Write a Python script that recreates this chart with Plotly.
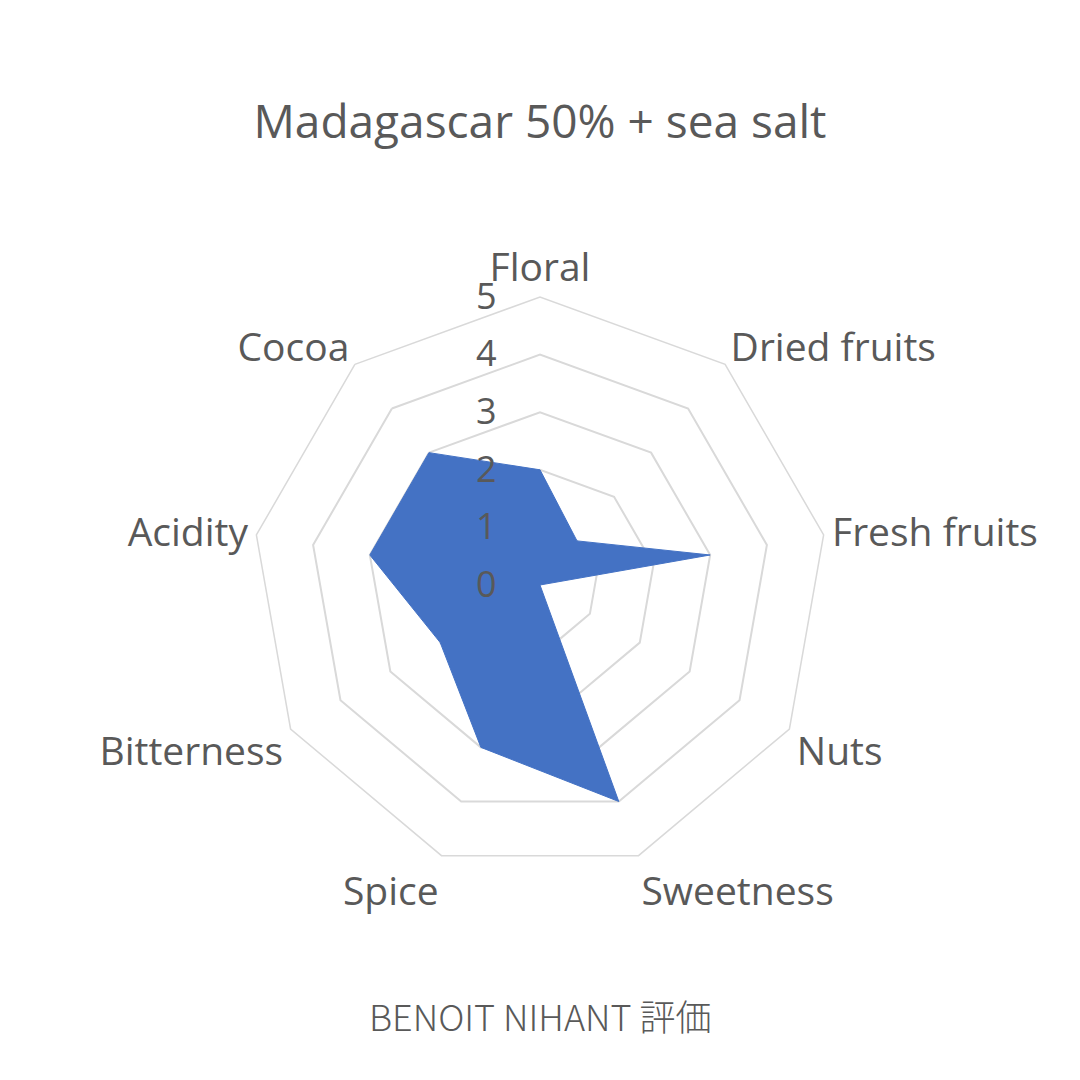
import plotly.graph_objects as go

# Flavour profile (0-5 scale)
categories = ["Floral", "Dried fruits", "Fresh fruits", "Nuts", "Sweetness",
              "Spice", "Bitterness", "Acidity", "Cocoa"]
scores = [2, 1, 3, 0, 4, 3, 2, 3, 3]
radial_ticks = [0, 1, 2, 3, 4, 5]

title_text = "Madagascar 50% + sea salt"
footer_text = "BENOIT NIHANT 評価"

grey = "#595959"
grid = "#d9d9d9"
font_family = "Open Sans, Noto Sans, sans-serif"

# page body adds an 8px offset, compensate in paper coords
off = 8

# close the polygon
r_closed = scores + scores[:1]
theta_closed = categories + categories[:1]

# pad tick labels so they sit left of the axis like the original
tick_labels = [str(v) + "\u00a0" * 4 for v in radial_ticks]

fig = go.Figure()
fig.add_trace(go.Scatterpolar(
    r=r_closed,
    theta=theta_closed,
    mode="lines",
    fill="toself",
    fillcolor="#4472C4",
    line=dict(color="#4472C4", width=1),
    hoverinfo="skip",
    showlegend=False,
))

fig.update_layout(
    width=1080,
    height=1080,
    paper_bgcolor="white",
    plot_bgcolor="white",
    margin=dict(l=0, r=0, t=0, b=0),
    font=dict(family=font_family, color=grey),
    title=dict(
        text=title_text,
        x=(540 - off) / 1080, xanchor="center",
        y=1 - (122 - off) / 1080, yanchor="middle",
        font=dict(size=46, color=grey),
    ),
    polar=dict(
        domain=dict(x=[(252 - off) / 1080, (828 - off) / 1080],
                    y=[(207 + off) / 1080, (783 + off) / 1080]),
        bgcolor="white",
        gridshape="linear",
        angularaxis=dict(
            direction="clockwise",
            rotation=90,
            showgrid=False,
            showline=True,
            linecolor=grid,
            linewidth=1.5,
            ticks="",
            tickfont=dict(size=39, color=grey),
        ),
        radialaxis=dict(
            range=[0, 5],
            tickvals=radial_ticks,
            ticktext=tick_labels,
            angle=90,
            tickangle=90,
            side="counterclockwise",
            showline=False,
            ticks="",
            showgrid=True,
            gridcolor=grid,
            gridwidth=1.5,
            tickfont=dict(size=36, color=grey),
        ),
    ),
    annotations=[dict(
        text=footer_text,
        x=(540 - off) / 1080, xref="paper", xanchor="center",
        y=1 - (1015 - off) / 1080, yref="paper", yanchor="middle",
        showarrow=False,
        font=dict(size=36, color=grey, family="Noto Sans CJK JP", weight=300),
    )],
)

fig.write_html("out.html")
